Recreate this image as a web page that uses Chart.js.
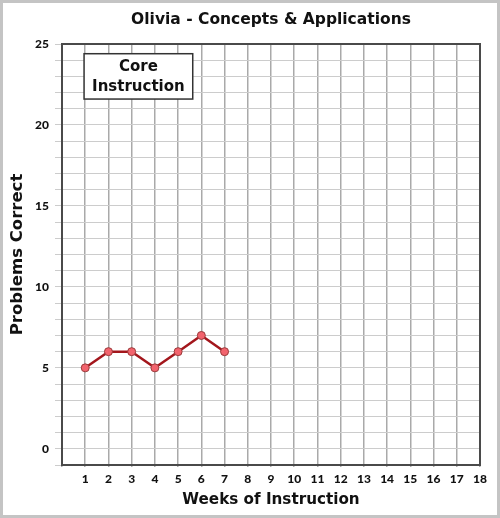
<!DOCTYPE html>
<html>
<head>
<meta charset="utf-8">
<script src="https://cdn.jsdelivr.net/npm/chart.js@4.4.1/dist/chart.umd.min.js"></script>
<style>
html,body{margin:0;padding:0;background:#fff;}
#wrap{width:500px;height:518px;position:relative;}
</style>
</head>
<body>
<div id="wrap"><canvas id="c" width="500" height="518"></canvas></div>
<script>
const chartTitle = 'Olivia - Concepts & Applications';
const xAxisTitle = 'Weeks of Instruction';
const yAxisTitle = 'Problems Correct';
const weeks = [1, 2, 3, 4, 5, 6, 7];
const problemsCorrect = [5, 6, 6, 5, 6, 7, 6];
const phaseLabel = ['Core', 'Instruction'];
const xMin = 0, xMax = 18;
const yMin = -1, yMax = 25;

const FONT = '"DejaVu Sans", sans-serif';
const TICKFONT = 'Lato, "DejaVu Sans", sans-serif';

const framePlugin = {
  id: 'frame',
  beforeDraw(chart) {
    const ctx = chart.ctx;
    ctx.save();
    ctx.fillStyle = '#ffffff';
    ctx.fillRect(0, 0, chart.width, chart.height);
    ctx.restore();
  },
  afterDraw(chart) {
    const ctx = chart.ctx;
    const a = chart.chartArea;
    const xs = chart.scales.x, ys = chart.scales.y;
    ctx.save();
    ctx.strokeStyle = '#4a4a4a';
    ctx.lineWidth = 2;
    ctx.strokeRect(a.left, a.top, a.right - a.left, a.bottom - a.top);
    const bx1 = xs.getPixelForValue(0.95), bx2 = xs.getPixelForValue(5.63);
    const by1 = ys.getPixelForValue(24.4), by2 = ys.getPixelForValue(21.6);
    ctx.fillStyle = '#ffffff';
    ctx.fillRect(bx1, by1, bx2 - bx1, by2 - by1);
    ctx.strokeStyle = '#333333';
    ctx.lineWidth = 1.5;
    ctx.strokeRect(bx1, by1, bx2 - bx1, by2 - by1);
    ctx.fillStyle = '#111111';
    ctx.font = 'bold 15px ' + FONT;
    ctx.textAlign = 'center';
    ctx.textBaseline = 'middle';
    const cx = (bx1 + bx2) / 2;
    ctx.fillText(phaseLabel[0], cx, by1 + 13);
    ctx.fillText(phaseLabel[1], cx, by1 + 33);
    ctx.strokeStyle = '#c4c4c4';
    ctx.lineWidth = 3;
    ctx.strokeRect(1.5, 1.5, chart.width - 3, chart.height - 3);
    ctx.restore();
  }
};

new Chart(document.getElementById('c'), {
  type: 'line',
  data: {
    datasets: [{
      data: weeks.map((w, i) => ({x: w, y: problemsCorrect[i]})),
      borderColor: '#a3161c',
      borderWidth: 2.5,
      pointBackgroundColor: '#f2636d',
      pointBorderColor: '#9a3a3a',
      pointBorderWidth: 1,
      pointRadius: 4,
      tension: 0,
      fill: false
    }]
  },
  plugins: [framePlugin],
  options: {
    responsive: false,
    animation: false,
    devicePixelRatio: 1,
    layout: {padding: {left: 0, right: 20, top: 0, bottom: 0}},
    plugins: {
      legend: {display: false},
      tooltip: {enabled: false},
      title: {
        display: true,
        fullSize: false,
        text: chartTitle,
        color: '#111',
        font: {family: FONT, size: 15.5, weight: 'bold', lineHeight: 1.2},
        padding: {top: 11, bottom: 14.4}
      }
    },
    scales: {
      x: {
        type: 'linear',
        min: xMin, max: xMax,
        ticks: {
          stepSize: 1,
          color: '#111',
          font: {family: TICKFONT, size: 12, weight: 900},
          padding: 5,
          maxRotation: 0,
          autoSkip: false,
          callback: v => (v >= 1 ? String(v) : '')
        },
        grid: {color: '#a9a9a9', lineWidth: 1.5, drawTicks: true, tickLength: 2},
        border: {display: true, color: '#4a4a4a', width: 2},
        title: {
          display: true, text: xAxisTitle, color: '#111',
          font: {family: FONT, size: 15.2, weight: 'bold', lineHeight: 1.2},
          padding: {top: 4, bottom: 9}
        },
        afterFit: s => { s.height = 53; }
      },
      y: {
        type: 'linear',
        min: yMin, max: yMax,
        ticks: {
          stepSize: 1,
          color: '#111',
          font: {family: TICKFONT, size: 12, weight: 900},
          padding: 6,
          autoSkip: false,
          callback: v => (v >= 0 && v % 5 === 0 ? String(v) : '')
        },
        grid: {color: '#cccccc', lineWidth: 1, drawTicks: true, tickLength: 7},
        border: {display: true, color: '#4a4a4a', width: 2},
        title: {
          display: true, text: yAxisTitle, color: '#111',
          font: {family: FONT, size: 16.5, weight: 'bold', lineHeight: 1.2},
          padding: {top: 8, bottom: 4}
        },
        afterFit: s => { s.width = 62; }
      }
    }
  }
});
</script>
</body>
</html>
